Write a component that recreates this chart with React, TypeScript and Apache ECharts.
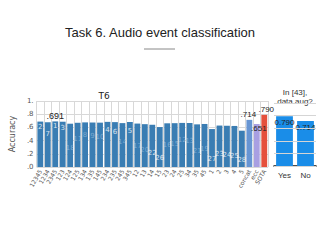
import React, { useEffect, useRef } from "react";
import * as echarts from "echarts";

const categories = ["12345","1234","2345","123","124","125","134","135","145","234","235","245","345","12","13","14","15","23","24","25","34","35","45","1","2","3","4","5","concat","ecc","SOTA"];
const comboValues = [0.688,0.678,0.691,0.686,0.656,0.670,0.676,0.674,0.672,0.684,0.680,0.665,0.682,0.658,0.649,0.640,0.605,0.662,0.664,0.668,0.667,0.646,0.652,0.575,0.628,0.625,0.622,0.550];
const comboRanks = [2,7,1,3,18,11,8,9,10,4,6,14,5,17,20,22,26,16,15,12,13,21,19,27,23,24,25,28];
const concatValue = 0.714;
const eccValue = 0.651;
const sotaValue = 0.790;
const augCategories = ["Yes","No"];
const augValues = [0.790, 0.714];
const yTicks = [0, 0.2, 0.4, 0.6, 0.8, 1.0];

const FONT = "'Liberation Sans', Arial, sans-serif";
const AXFONT = "'DejaVu Sans', sans-serif";

export default function App() {
  const ref = useRef<HTMLDivElement>(null);
  useEffect(() => {
    const chart = echarts.init(ref.current!, null, { renderer: "svg" });
    const fmt = (v: number) => (v >= 1 ? "1." : "." + Math.round(v * 10));
    const bestIdx = comboRanks.indexOf(1);
    const mainData: any[] = comboValues.map((v, i) => {
      const item: any = { value: v, itemStyle: { color: "#3a7db3" } };
      if (i === bestIdx) {
        item.label = { show: true, position: "top", distance: 1, formatter: ".691", color: "#222", fontSize: 9, fontFamily: FONT };
      }
      return item;
    });
    mainData.push({ value: concatValue, itemStyle: { color: "#6795d3" }, label: { show: true, position: "top", distance: 1, offset: [-1, 0], formatter: ".714", color: "#222", fontSize: 8, fontFamily: FONT } });
    mainData.push({ value: eccValue, itemStyle: { color: "#a89fe2" }, label: { show: true, position: "insideTop", distance: 1, offset: [2, -1], formatter: ".651", color: "#222", fontSize: 8, fontFamily: FONT } });
    mainData.push({ value: sotaValue, itemStyle: { color: "#e5503c" }, label: { show: true, position: "top", distance: 1, offset: [2, 0], formatter: ".790", color: "#222", fontSize: 8, fontFamily: FONT } });

    const rankData = comboRanks.map((r, i) => ({
      value: [i, r],
      label: { color: r <= 7 || r >= 22 ? "#ffffff" : "rgba(210,228,245,0.55)" },
    }));

    chart.setOption({
      animation: false,
      textStyle: { fontFamily: AXFONT },
      grid: [
        { left: 20, top: 101, width: 248, height: 66, containLabel: false },
        { left: 274, top: 103, width: 42, height: 63, containLabel: false },
      ],
      xAxis: [
        {
          type: "category", gridIndex: 0, data: categories,
          axisTick: { show: false },
          axisLine: { show: false },
          axisLabel: { interval: 0, rotate: 60, fontSize: 6, margin: 3, color: "#555", fontFamily: AXFONT },
          splitLine: { show: true, interval: 0, lineStyle: { color: "#d8d8d8", width: 1 } },
        },
        {
          type: "category", gridIndex: 1, data: augCategories,
          axisTick: { show: false },
          axisLine: { show: true, lineStyle: { color: "#111", width: 1.5 } },
          axisLabel: { fontSize: 8, margin: 5, color: "#333", fontFamily: FONT },
        },
      ],
      yAxis: [
        {
          type: "value", gridIndex: 0, min: 0, max: 1, interval: 0.2,
          axisLine: { show: false }, axisTick: { show: false },
          axisLabel: { fontSize: 7, margin: 3, color: "#555", formatter: (v: number) => fmt(v), customValues: yTicks },
          splitLine: { show: true, lineStyle: { color: "#d8d8d8" } },
          name: "Accuracy", nameLocation: "middle", nameGap: 10,
          nameTextStyle: { fontSize: 8, color: "#555", fontFamily: AXFONT },
        },
        {
          type: "value", gridIndex: 0, inverse: true, min: -18.6, max: 33.3, show: false,
          splitLine: { show: false },
        },
        {
          type: "value", gridIndex: 1, min: 0, max: 1, interval: 0.2, z: 5,
          axisLine: { show: false }, axisTick: { show: false }, axisLabel: { show: false },
          splitLine: { show: true, lineStyle: { color: "#d5d5d5" } },
        },
      ],
      series: [
        {
          type: "bar", xAxisIndex: 0, yAxisIndex: 0, data: mainData,
          barCategoryGap: "22%",
        },
        {
          type: "scatter", xAxisIndex: 0, yAxisIndex: 1, data: rankData,
          symbolSize: 0, z: 4,
          label: { show: true, position: "inside", fontSize: 7, fontFamily: AXFONT, formatter: (p: any) => String(p.value[1]) },
        },
        {
          type: "bar", xAxisIndex: 1, yAxisIndex: 2, data: augValues,
          barCategoryGap: "20%",
          itemStyle: { color: "#1a8de8" },
          label: { show: true, position: "insideTop", distance: 2, color: "#222", fontSize: 8, fontFamily: FONT, formatter: (p: any) => p.value.toFixed(3) },
        },
      ],
      graphic: [
        { type: "text", x: 160, y: 32, style: { text: "Task 6. Audio event classification", fill: "#222", font: "13px " + FONT, textAlign: "center", textVerticalAlign: "middle" } },
        { type: "line", shape: { x1: 144, y1: 49, x2: 175, y2: 49 }, style: { stroke: "#888", lineWidth: 1 } },
        { type: "text", x: 104, y: 96, style: { text: "T6", fill: "#222", font: "9px " + AXFONT, textAlign: "center", textVerticalAlign: "middle" } },
        { type: "text", x: 295, y: 92, style: { text: "In [43],", fill: "#333", font: "8px " + FONT, textAlign: "center", textVerticalAlign: "middle" } },
        { type: "text", x: 295, y: 101, style: { text: "data aug?", fill: "#333", font: "8px " + FONT, textAlign: "center", textVerticalAlign: "middle" } },
      ],
    });
    return () => chart.dispose();
  }, []);
  return <div ref={ref} style={{ position: "fixed", left: 0, top: 0, width: 320, height: 240, background: "#fff" }} />;
}
